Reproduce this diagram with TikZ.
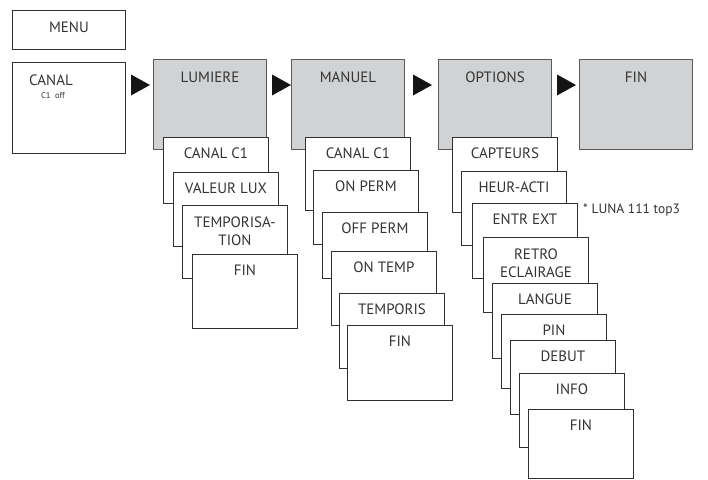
\documentclass[tikz,border=0pt]{standalone}
\usepackage{fontspec}
\setmainfont{PT Sans}
\usetikzlibrary{calc}
\definecolor{txt}{HTML}{333333}
\definecolor{panel}{HTML}{D1D2D4}
\definecolor{edge}{HTML}{5A5A5A}
\definecolor{boxline}{HTML}{303030}
\tikzset{
  menubox/.style={draw=boxline, line width=0.9pt, fill=white, anchor=north west, inner sep=0pt, minimum width=113pt},
  mainbox/.style={draw=edge, fill=panel, line width=1pt, anchor=north west, inner sep=0pt, minimum width=113pt, minimum height=90pt},
  subbox/.style={draw=boxline, fill=white, line width=0.9pt, anchor=north west, minimum width=105pt, inner sep=0pt},
  lbl/.style={text=txt, font=\fontsize{15}{18.5}\selectfont, align=center, anchor=base, inner sep=0pt},
  small/.style={text=txt, font=\fontsize{8.5}{10}\selectfont, anchor=base, inner sep=0pt},
  note/.style={text=txt, font=\fontsize{13.5}{16}\selectfont, anchor=base west, inner sep=0pt},
  tri/.style={fill=black!92, draw=none},
}
% one-line label
\newcommand\mysub[5]{%
  \node[subbox, minimum height=#4pt] (#1) at (#2,#3) {};
  \node[lbl] (#1-t) at ($(#1.north)+(0,21.5)$) {#5};
}
% two-line label (base anchor sits on the last line)
\newcommand\mysubb[5]{%
  \node[subbox, minimum height=#4pt] (#1) at (#2,#3) {};
  \node[lbl] (#1-t) at ($(#1.north)+(0,40.5)$) {#5};
}
\newcommand\mymain[4]{%
  \node[mainbox] (#1) at (#2,#3) {};
  \node[lbl] (#1-t) at ($(#1.north)+(0,23.5)$) {#4};
}
\begin{document}
\begin{tikzpicture}[x=1pt,y=-1pt]
\useasboundingbox (0,0) rectangle (708,479);
% menu column
\node[menubox, minimum height=39pt] (menu) at (12,10) {};
\node[lbl] (menu-t) at ($(menu.north)+(0,22.5)$) {MENU};
\node[menubox, minimum height=91pt] (canal) at (12,62) {};
\node[lbl] (canal-t) at (51,85) {CANAL};
\node[small] (canal-s) at (53,98) {C1\ \ off};
% main panels
\mymain{lum}{153}{59}{LUMIERE}
\mymain{man}{291}{59}{MANUEL}
\mymain{opt}{438}{59}{OPTIONS}
\mymain{fin}{579}{59}{FIN}
% triangles
\foreach \xa in {131,272,413,557}{
  \fill[tri] (\xa,74.5) -- (\xa+19,85) -- (\xa,95.5) -- cycle;
}
% LUMIERE column
\mysub{l1}{163}{137}{66}{CANAL C1}
\mysub{l2}{173}{172}{74}{VALEUR LUX}
\mysubb{l3}{182}{205}{73}{TEMPORISA-\\TION}
\mysub{l4}{192}{254}{74}{FIN}
% MANUEL column
\mysub{m1}{305}{137}{73}{CANAL C1}
\mysub{m2}{313}{170}{74}{ON PERM}
\mysub{m3}{322}{212}{66}{OFF PERM}
\mysub{m4}{331}{251}{74}{ON TEMP}
\mysub{m5}{339}{293}{75}{TEMPORIS}
\mysub{m6}{347}{325}{75}{FIN}
% OPTIONS column
\mysub{o1}{452}{137}{75}{CAPTEURS}
\mysub{o2}{461}{171}{74}{HEUR-ACTI}
\mysub{o3}{472}{203}{75}{ENTR EXT}
\mysubb{o4}{483}{237}{75}{RETRO\\ECLAIRAGE}
\mysub{o5}{492}{283}{75}{LANGUE}
\mysub{o6}{501}{314}{74}{PIN}
\mysub{o7}{510}{340}{74}{DEBUT}
\mysub{o8}{519}{373}{74}{INFO}
\mysub{o9}{528}{409}{68.5}{FIN}
\node[note] (fn) at (583,213) {* LUNA 111 top3};
\end{tikzpicture}
\end{document}
